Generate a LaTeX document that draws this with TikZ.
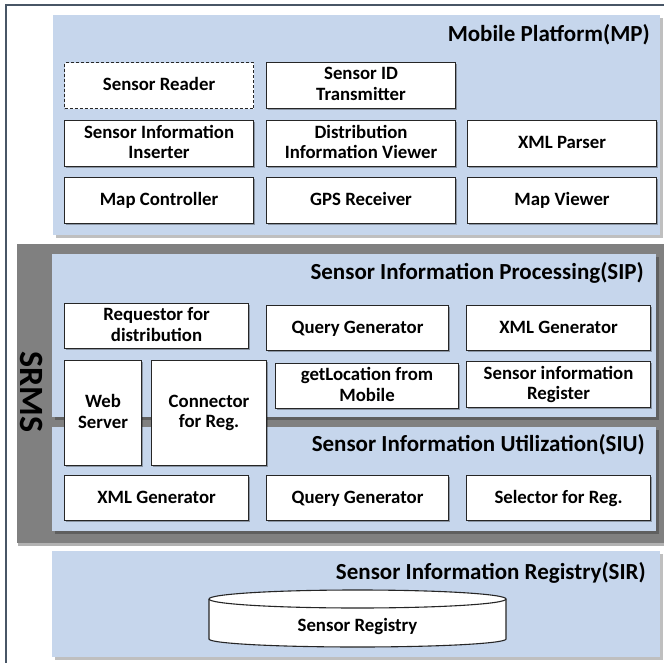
\documentclass[tikz,border=0pt]{standalone}
\usepackage{fontspec}
\setmainfont{Carlito}
\usetikzlibrary{                          % TikZ libraries
                shadows,                  % drop shadows of panels and units
                calc}
\usepackage{xcolor}

\definecolor{panelblue}{RGB}{198,214,236}
\definecolor{bandgray}{RGB}{128,128,128}
\definecolor{framegray}{RGB}{72,86,102}

\newcommand{\unitfont}{\fontsize{18.8}{20.5}\selectfont\bfseries}
\newcommand{\titlefont}{\fontsize{23}{25}\selectfont\bfseries}
\newcommand{\srmsfont}{\fontsize{34}{36}\selectfont\bfseries}
% same height for every line of a unit, with or without descenders
\newcommand{\unitstrut}{\rule[-3pt]{0pt}{16pt}}

\begin{document}
\begin{tikzpicture}[x=1pt,y=-1pt
                    ]
                % define styles
\tikzset{panel/.style={fill=panelblue,
                       inner sep=0,
                       anchor=north west,
                       drop shadow={shadow xshift=2.5pt,shadow yshift=-2.5pt,
                                    fill=black,opacity=0.25},
                       },
         band/.style={fill=bandgray,
                       inner sep=0,
                       anchor=north west,
                       drop shadow={shadow xshift=1pt,shadow yshift=-3pt,
                                    fill=black,opacity=0.3},
                       },
         unitbase/.style={draw=black!85,
                       fill=white,
                       line width=1.1pt,
                       inner sep=0,
                       anchor=north west,
                       align=center,
                       minimum width=189pt,
                       minimum height=46pt,
                       font=\unitfont,
                       execute at begin node=\unitstrut,
                       execute at end node=\unitstrut,
                       },
         unit/.style={unitbase,
                       drop shadow={shadow xshift=1.5pt,shadow yshift=-1.5pt,
                                    fill=black,opacity=0.3},
                       },
         title/.style={anchor=east,
                       inner sep=0,
                       font=\titlefont,
                       }
}

\useasboundingbox (0,0) rectangle (664,663);

% outer frame
\draw[framegray,line width=1.2pt] (6,663) -- (6,5) -- (664,5);

% mobile platform
\node[panel,minimum width=607pt,minimum height=220pt] (mp) at (53,15) {};
\node[title] (mptitle) at (650,35) {Mobile Platform(MP)};

\node[unitbase,dash pattern=on 3pt off 2pt] (reader) at (64,62) {Sensor Reader};
\node[unit]            (idtrans)   at (266,62)  {Sensor ID\\Transmitter};
\node[unit]            (inserter)  at (64,120)  {Sensor Information\\Inserter};
\node[unit]            (distview)  at (266,120) {Distribution\\Information Viewer};
\node[unit]            (xmlparser) at (467,120) {XML Parser};
\node[unit]            (mapctrl)   at (64,177)  {Map Controller};
\node[unit]            (gps)       at (266,177) {GPS Receiver};
\node[unit]            (mapview)   at (467,177) {Map Viewer};

% srms band with its two layers
\node[band,minimum width=647pt,minimum height=299pt] (srmsband) at (17,244) {};
\node[rotate=-90,font=\srmsfont,inner sep=0] (srms) at (32,392) {SRMS};

\node[panel,minimum width=604pt,minimum height=163pt] (sip) at (52,254) {};
\node[title] (siptitle) at (644,273) {Sensor Information Processing(SIP)};

\node[panel,minimum width=604pt,minimum height=104pt] (siu) at (52,427) {};
\node[title] (siutitle) at (645,445) {Sensor Information Utilization(SIU)};

\node[unit,minimum width=184pt,minimum height=45pt] (requestor) at (64,303)  {Requestor for\\distribution};
\node[unit,minimum width=182pt,minimum height=45pt] (sipquery)  at (266,305) {Query Generator};
\node[unit,minimum width=184pt,minimum height=45pt] (sipxml)    at (466,305) {XML Generator};

\node[unit,minimum width=77pt,minimum height=105pt]  (websrv)  at (64,360)  {Web\\Server};
\node[unit,minimum width=115pt,minimum height=105pt] (connreg) at (151,360) {Connector\\for Reg.};
\node[unit,minimum width=183pt,minimum height=45pt]  (getloc)  at (275,363) {getLocation from\\Mobile};
\node[unit,minimum width=184pt,minimum height=46pt]  (inforeg) at (466,361) {Sensor information\\Register};

\node[unit,minimum width=184pt,minimum height=45pt] (siuxml)    at (64,475)  {XML Generator};
\node[unit,minimum width=182pt,minimum height=45pt] (siuquery)  at (266,475) {Query Generator};
\node[unit,minimum width=184pt,minimum height=45pt] (selector)  at (466,475) {Selector for Reg.};

% sensor information registry
\node[panel,minimum width=608pt,minimum height=106pt] (sir) at (52,551) {};
\node[title] (sirtitle) at (646,573) {Sensor Information Registry(SIR)};

% registry cylinder
\draw[draw=black!85,fill=white,line width=1.1pt]
    (209,599) -- (209,639)
    arc[start angle=180,end angle=360,x radius=148.5pt,y radius=8pt]
    -- (506,599)
    arc[start angle=0,end angle=180,x radius=148.5pt,y radius=9pt];
\draw[draw=black!85,line width=1.1pt]
    (209,599) arc[start angle=180,end angle=360,x radius=148.5pt,y radius=9pt];
\node[font=\unitfont,inner sep=0] (sreg) at (357.5,626) {\unitstrut Sensor Registry};

\end{tikzpicture}
\end{document}
